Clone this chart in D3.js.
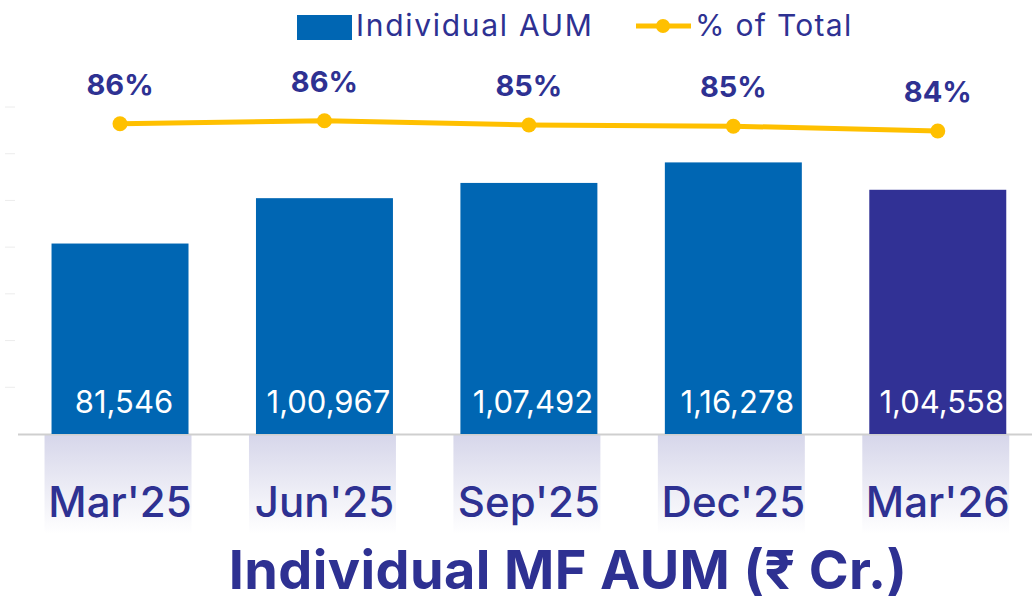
<!DOCTYPE html>
<html>
<head>
<meta charset="utf-8">
<script src="https://cdn.jsdelivr.net/npm/d3@7"></script>
<style>
  body { margin: 0; padding: 0; background: #fff; }
  text { font-family: Inter, "Open Sans", sans-serif; }
</style>
</head>
<body>
<script>
// periods on the x axis
const categories = ["Mar'25", "Jun'25", "Sep'25", "Dec'25", "Mar'26"]
// individual AUM, Rs crore
const aum = [81546, 100967, 107492, 116278, 104558]
const aumLabels = ["81,546", "1,00,967", "1,07,492", "1,16,278", "1,04,558"]
// share of total, %
const pctOfTotal = [85.6, 86.1, 85.4, 85.2, 84.4]
const yTicks = [0, 20000, 40000, 60000, 80000, 100000, 120000, 140000]

const width = 1032
const height = 602
const navy = "#2e3192"
const blue = "#0066b3"
const gold = "#ffc000"

const svg = d3.select("body").append("svg")
  .attr("width", width)
  .attr("height", height)

const defs = svg.append("defs")
const grad = defs.append("linearGradient")
  .attr("id", "shade")
  .attr("x1", 0).attr("y1", 0).attr("x2", 0).attr("y2", 1)
grad.append("stop").attr("offset", "0%").attr("stop-color", "#d6d6ea")
grad.append("stop").attr("offset", "100%").attr("stop-color", "#ffffff")

const x = d3.scaleBand()
  .domain(categories)
  .range([17.8, 1040])
  .paddingInner(0.33)
  .paddingOuter(0.165)

const y = d3.scaleLinear()
  .domain([0, 140000])
  .range([434, 107])

const yPct = d3.scaleLinear()
  .domain([80, 90])
  .range([157.4, 97.4])

const rows = categories.map((c, i) => ({ cat: c, aum: aum[i], label: aumLabels[i], pct: pctOfTotal[i], i }))

// faint axis ticks on the left
svg.append("g")
  .selectAll("line")
  .data(yTicks.slice(1))
  .join("line")
  .attr("x1", 5).attr("x2", 15)
  .attr("y1", d => y(d)).attr("y2", d => y(d))
  .attr("stroke", "#ececec")
  .attr("stroke-width", 1)

// shaded panels under each bar
svg.append("g")
  .selectAll("rect")
  .data(rows)
  .join("rect")
  .attr("x", d => x(d.cat) - 7)
  .attr("y", y(0))
  .attr("width", x.bandwidth() + 10)
  .attr("height", 100)
  .attr("fill", "url(#shade)")

// baseline
svg.append("line")
  .attr("x1", 18).attr("x2", width)
  .attr("y1", y(0) + 0.5).attr("y2", y(0) + 0.5)
  .attr("stroke", "#cfcfcf")
  .attr("stroke-width", 2)

// bars
svg.append("g")
  .selectAll("rect")
  .data(rows)
  .join("rect")
  .attr("x", d => x(d.cat))
  .attr("y", d => y(d.aum))
  .attr("width", x.bandwidth())
  .attr("height", d => y(0) - y(d.aum))
  .attr("fill", d => d.i === rows.length - 1 ? "#313195" : blue)

// values inside bars
svg.append("g")
  .selectAll("text")
  .data(rows)
  .join("text")
  .attr("x", d => x(d.cat) + x.bandwidth() / 2 + 4)
  .attr("y", 413)
  .attr("text-anchor", "middle")
  .attr("fill", "#fff")
  .attr("font-size", 31)
  .text(d => d.label)

// category labels
svg.append("g")
  .selectAll("text")
  .data(rows)
  .join("text")
  .attr("x", d => x(d.cat) + x.bandwidth() / 2)
  .attr("y", 517)
  .attr("text-anchor", "middle")
  .attr("fill", navy)
  .attr("font-size", 42)
  .attr("font-weight", 500)
  .text(d => d.cat)

// % of total line
const line = d3.line()
  .x(d => x(d.cat) + x.bandwidth() / 2)
  .y(d => yPct(d.pct))

svg.append("path")
  .datum(rows)
  .attr("d", line)
  .attr("fill", "none")
  .attr("stroke", gold)
  .attr("stroke-width", 5)

svg.append("g")
  .selectAll("circle")
  .data(rows)
  .join("circle")
  .attr("cx", d => x(d.cat) + x.bandwidth() / 2)
  .attr("cy", d => yPct(d.pct))
  .attr("r", 7.5)
  .attr("fill", gold)

svg.append("g")
  .selectAll("text")
  .data(rows)
  .join("text")
  .attr("x", d => x(d.cat) + x.bandwidth() / 2)
  .attr("y", d => yPct(d.pct) - 29)
  .attr("text-anchor", "middle")
  .attr("fill", navy)
  .attr("font-size", 29)
  .attr("font-weight", 700)
  .text(d => Math.round(d.pct) + "%")

// legend
const legend = svg.append("g")
legend.append("rect")
  .attr("x", 297).attr("y", 15)
  .attr("width", 55).attr("height", 25)
  .attr("fill", blue)
legend.append("text")
  .attr("x", 356).attr("y", 36)
  .attr("fill", navy)
  .attr("font-size", 30)
  .attr("letter-spacing", 1.7)
  .text("Individual AUM")
legend.append("line")
  .attr("x1", 636).attr("x2", 691)
  .attr("y1", 26).attr("y2", 26)
  .attr("stroke", gold)
  .attr("stroke-width", 5)
legend.append("circle")
  .attr("cx", 663).attr("cy", 26).attr("r", 7)
  .attr("fill", gold)
legend.append("text")
  .attr("x", 695).attr("y", 36)
  .attr("fill", navy)
  .attr("font-size", 30)
  .attr("letter-spacing", 1.3)
  .text("% of Total")

// title
svg.append("text")
  .attr("x", 568).attr("y", 589)
  .attr("text-anchor", "middle")
  .attr("fill", navy)
  .attr("font-size", 54)
  .attr("font-weight", 700)
  .attr("letter-spacing", 0.4)
  .text("Individual MF AUM (₹ Cr.)")
</script>
</body>
</html>
